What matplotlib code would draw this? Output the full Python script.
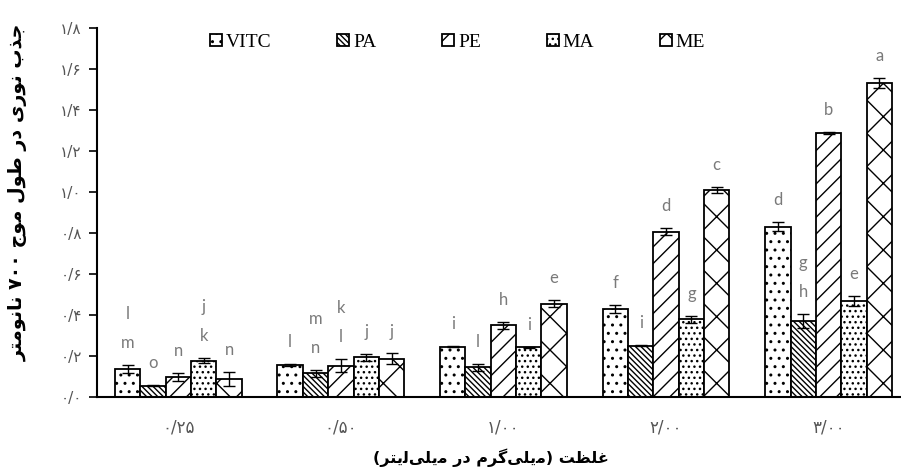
import numpy as np
import matplotlib
matplotlib.use("Agg")
import matplotlib.pyplot as plt

# Concentration groups (Persian digits, "/" as decimal sign)
concentrations = ["۰/۲۵", "۰/۵۰", "۱/۰۰", "۲/۰۰", "۳/۰۰"]
series_names = ["VITC", "PA", "PE", "MA", "ME"]

# Absorbance at 700 nm
vitc = [0.139, 0.158, 0.248, 0.432, 0.833]
pa = [0.058, 0.118, 0.147, 0.253, 0.373]
pe = [0.098, 0.155, 0.352, 0.809, 1.290]
ma = [0.180, 0.196, 0.245, 0.381, 0.472]
me = [0.090, 0.188, 0.458, 1.012, 1.534]

# Error bars
vitc_err = [0.020, 0.005, 0.003, 0.020, 0.021]
pa_err = [0.003, 0.018, 0.016, 0.003, 0.034]
pe_err = [0.020, 0.033, 0.018, 0.016, 0.003]
ma_err = [0.013, 0.016, 0.002, 0.018, 0.024]
me_err = [0.036, 0.027, 0.018, 0.016, 0.023]

# Significance letters
vitc_letters = ["l\nm", "l", "i", "f", "d"]
pa_letters = ["o", "m\nn", "l", "i", "g\nh"]
pe_letters = ["n", "k\nl", "h", "d", "b"]
ma_letters = ["j\nk", "j", "i", "g", "e"]
me_letters = ["n", "j", "e", "c", "a"]

y_ticks = [0.0, 0.2, 0.4, 0.6, 0.8, 1.0, 1.2, 1.4, 1.6, 1.8]
y_tick_labels = ["۰/۰", "۰/۲", "۰/۴", "۰/۶", "۰/۸", "۱/۰", "۱/۲", "۱/۴", "۱/۶", "۱/۸"]

# Persian titles, written in visual (left-to-right) order with shaped letter forms
# y: "جذب نوری در طول موج ۷۰۰ نانومتر"
y_title = ("\uFEAE\uFE98\uFEE3\uFEEE\uFEE7\uFE8E\uFEE7" + " ۷۰۰ "
           + "\uFE9D\uFEEE\uFEE3" + " " + "\uFEDD\uFEEE\uFEC3" + " "
           + "\uFEAD\uFEA9" + " " + "\uFBFC\uFEAD\uFEEE\uFEE7" + " "
           + "\uFE8F\uFEAC\uFE9F")
# x: "غلظت (میلی‌گرم در میلی‌لیتر)"
mili = "\uFBFD\uFEE0\uFBFE\uFEE3"
x_title = ("(" + "\uFEAE\uFE98\uFBFE\uFEDF" + mili + " " + "\uFEAD\uFEA9" + " "
           + "\uFEE1\uFEAE\uFB94" + mili + ")" + " " + "\uFE96\uFEC8\uFEE0\uFECF")

plt.rcParams["hatch.linewidth"] = 1.0
plt.rcParams["font.family"] = ["DejaVu Sans"]

fig = plt.figure(figsize=(9.01, 4.74), dpi=100)
ax = fig.add_axes([0.1077, 0.1614, 0.8913, 0.7789])

values = [vitc, pa, pe, ma, me]
errors = [vitc_err, pa_err, pe_err, ma_err, me_err]
letters = [vitc_letters, pa_letters, pe_letters, ma_letters, me_letters]
hatches = ["..", "\\\\\\\\\\\\", "//", "...", "x"]

x = np.arange(len(concentrations))
width = 0.156

for i, name in enumerate(series_names):
    pos = x + (i - 2) * width
    ax.bar(pos, values[i], width, color="white", edgecolor="black",
           linewidth=1.3, hatch=hatches[i], label=name)
    ax.errorbar(pos, values[i], yerr=errors[i], fmt="none", ecolor="black",
                elinewidth=1.0, capsize=4, capthick=1.0)
    for j in range(len(concentrations)):
        ax.annotate(letters[i][j], (pos[j], values[i][j] + errors[i][j]),
                    xytext=(0, 10), textcoords="offset points",
                    ha="center", va="bottom", fontsize=12, color="#7a7a7a",
                    family="Lato", linespacing=2.0)

ax.set_xlim(-0.5, 4.44)
ax.set_ylim(0, 1.8)
ax.set_yticks(y_ticks)
ax.set_yticklabels(y_tick_labels)
ax.set_xticks(x)
ax.set_xticklabels(concentrations)

ax.tick_params(axis="y", direction="out", length=6, width=1.2, pad=5,
               labelsize=11, labelcolor="#555555")
ax.tick_params(axis="x", length=0, pad=15, labelsize=12, labelcolor="#555555")

for side in ["top", "right"]:
    ax.spines[side].set_visible(False)
ax.spines["left"].set_linewidth(1.5)
ax.spines["bottom"].set_linewidth(1.5)

fig.text(0.02, 0.594, y_title, rotation=90, ha="center", va="center",
         fontsize=13.8, fontweight="bold")
fig.text(0.545, 0.034, x_title, ha="center", va="center",
         fontsize=11.5, fontweight="bold")

fig.legend(loc="center", bbox_to_anchor=(0.508, 0.911), ncol=5, frameon=False,
           prop={"family": "Liberation Serif", "size": 14},
           handlelength=0.6, handleheight=0.6, handletextpad=0.2,
           columnspacing=3.4)

plt.savefig("out.png", dpi=100)
